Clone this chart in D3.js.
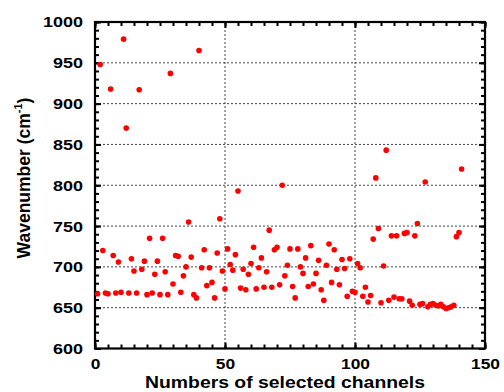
<!DOCTYPE html>
<html><head><meta charset="utf-8">
<script src="https://cdn.jsdelivr.net/npm/d3@7"></script>
<style>
body{margin:0;background:#fff}
text{font-family:"Liberation Sans",Arial,sans-serif;font-weight:bold;fill:#000}
</style>
</head><body>
<svg id="chart" width="504" height="392"></svg>
<script>
// Wavenumber of each selected channel (channel index 1..141)
const wavenumbers = [
667,948,720,668,667,918,714,668,706,669,
979,870,668,710,695,668,917,697,707,666,
735,668,691,707,666,735,694,666,937,679,
714,713,669,689,700,755,712,666,662,965,
699,721,677,699,681,662,717,759,695,673,
722,703,696,715,793,674,697,672,691,704,
724,673,699,711,675,694,745,675,721,724,
678,800,689,702,722,676,662,722,700,692,
711,676,726,679,692,708,672,659,702,728,
681,721,697,678,709,698,664,710,670,669,
704,699,664,675,657,665,734,809,747,656,
701,843,659,738,663,738,661,661,741,742,
658,653,738,753,654,655,804,651,654,655,
653,652,654,651,649,650,651,653,737,742,
820];
const channels = d3.range(1, wavenumbers.length + 1);
const xMajor = [0, 50, 100, 150];
const xMinor = d3.range(0, 151, 5);
const yMajor = [600, 650, 700, 750, 800, 850, 900, 950, 1000];
const yMinor = d3.range(600, 1001, 10);
const xGrid = [50, 100];
const yGrid = [650, 700, 750, 800, 850, 900, 950];
const xTitle = "Numbers of selected channels";

const L = 95, R = 485, T = 22, B = 348.5;
const svg = d3.select("#chart");
const x = d3.scaleLinear().domain([0, 150]).range([L, R]);
const y = d3.scaleLinear().domain([600, 1000]).range([B, T]);

// grid
svg.append("g").selectAll("line").data(yGrid).join("line")
  .attr("x1", L).attr("x2", R).attr("y1", d => y(d)).attr("y2", d => y(d))
  .attr("stroke", "#444").attr("stroke-width", 1).attr("stroke-dasharray", "2,2");
svg.append("g").selectAll("line").data(xGrid).join("line")
  .attr("y1", T).attr("y2", B).attr("x1", d => x(d)).attr("x2", d => x(d))
  .attr("stroke", "#444").attr("stroke-width", 1).attr("stroke-dasharray", "2,2");

function styleAxis(g) {
  g.select(".domain").remove();
  g.selectAll(".tick line").attr("stroke", "#000").attr("stroke-width", 2);
}
// minor ticks
svg.append("g").attr("transform", `translate(0,${B})`)
  .call(d3.axisBottom(x).tickValues(xMinor).tickSize(-4).tickFormat("")).call(styleAxis);
svg.append("g").attr("transform", `translate(0,${T})`)
  .call(d3.axisTop(x).tickValues(xMinor).tickSize(-4).tickFormat("")).call(styleAxis);
svg.append("g").attr("transform", `translate(${L},0)`)
  .call(d3.axisLeft(y).tickValues(yMinor).tickSize(-4).tickFormat("")).call(styleAxis);
svg.append("g").attr("transform", `translate(${R},0)`)
  .call(d3.axisRight(y).tickValues(yMinor).tickSize(-4).tickFormat("")).call(styleAxis);
// major ticks
const xb = svg.append("g").attr("transform", `translate(0,${B})`)
  .call(d3.axisBottom(x).tickValues(xMajor).tickSize(-6).tickPadding(9).tickFormat(d3.format("d"))).call(styleAxis);
svg.append("g").attr("transform", `translate(0,${T})`)
  .call(d3.axisTop(x).tickValues(xMajor).tickSize(-6).tickFormat("")).call(styleAxis);
const yl = svg.append("g").attr("transform", `translate(${L},0)`)
  .call(d3.axisLeft(y).tickValues(yMajor).tickSize(-6).tickPadding(12).tickFormat(d3.format("d"))).call(styleAxis);
svg.append("g").attr("transform", `translate(${R},0)`)
  .call(d3.axisRight(y).tickValues(yMajor).tickSize(-6).tickFormat("")).call(styleAxis);

xb.selectAll("text").attr("font-size", 15.5).attr("font-family", null).attr("fill", "#000");
yl.selectAll("text").attr("font-size", 15.5).attr("font-family", null).attr("fill", "#000");

// frame
svg.append("rect").attr("x", L).attr("y", T).attr("width", R - L).attr("height", B - T)
  .attr("fill", "none").attr("stroke", "#000").attr("stroke-width", 2.2);

// points
svg.append("g").selectAll("circle").data(channels).join("circle")
  .attr("cx", (d) => x(d)).attr("cy", (d, i) => y(wavenumbers[i]))
  .attr("r", 2.8).attr("fill", "#ff0000");

// titles
svg.append("text").attr("class", "xt").attr("x", 285).attr("y", 388)
  .attr("text-anchor", "middle").attr("font-size", 17).text(xTitle);
const yt = svg.append("text").attr("text-anchor", "middle").attr("font-size", 17.5)
  .attr("transform", "translate(30,178) rotate(-90)");
yt.append("tspan").text("Wavenumber (cm");
yt.append("tspan").attr("font-size", 11).attr("dy", -8).text("-1");
yt.append("tspan").attr("dy", 8).text(")");

// widen glyphs horizontally to match the reference's wide lettering
function stretch(sel, k) {
  sel.each(function() {
    const w = this.getComputedTextLength();
    this.setAttribute("textLength", w * k);
    this.setAttribute("lengthAdjust", "spacingAndGlyphs");
  });
}
stretch(xb.selectAll("text"), 1.12);
stretch(yl.selectAll("text"), 1.16);
stretch(svg.selectAll("text.xt"), 1.14);
</script>
</body></html>
